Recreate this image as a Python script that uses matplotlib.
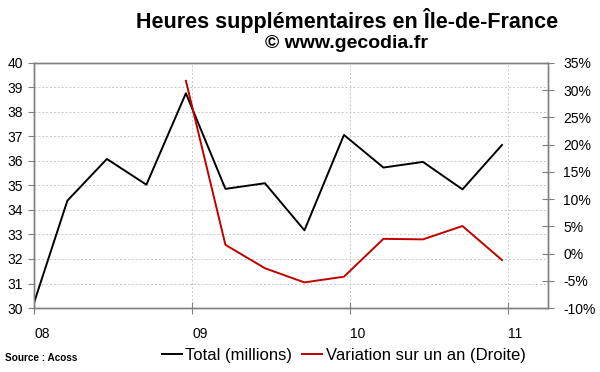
import numpy as np
import matplotlib
matplotlib.use('Agg')
from matplotlib import pyplot as plt

plt.rcParams['font.family'] = ['Liberation Sans', 'DejaVu Sans']

# trimestres (mi-mars, mi-juin, mi-sept., mi-déc.), de déc. 2007 à déc. 2010
trimestres = ['2007T4', '2008T1', '2008T2', '2008T3', '2008T4', '2009T1', '2009T2',
              '2009T3', '2009T4', '2010T1', '2010T2', '2010T3', '2010T4']
total = [29.45, 34.38, 36.08, 35.03, 38.76, 34.86, 35.09, 33.17, 37.06, 35.73, 35.96, 34.84, 36.65]
variation = [None, None, None, None, 31.7, 1.6, -2.7, -5.3, -4.25, 2.7, 2.6, 5.05, -1.2]
annees = ['08', '09', '10', '11']

# position en années depuis le 1er janvier 2008
x = np.array([-0.04 + 0.25 * i for i in range(len(trimestres))])
var_x = np.array([xi for xi, v in zip(x, variation) if v is not None])
var_y = np.array([v for v in variation if v is not None])

fig = plt.figure(figsize=(6, 3.72), dpi=100)
ax = fig.add_axes([0.057, 0.172, 0.856, 0.659])
ax2 = ax.twinx()

gris = '#808080'
ax.plot(x, total, color='black', lw=1.4, zorder=3)
ax2.plot(var_x, var_y, color='#c00000', lw=1.4, zorder=3)

ax.set_xlim(0, 3.25)
ax.set_ylim(30, 40)
ax2.set_ylim(-10, 35)
ax.set_yticks(range(30, 41))
ax2.set_yticks(range(-10, 36, 5))
ax2.set_yticklabels([f'{v}%' for v in range(-10, 36, 5)])
ax.set_xticks(range(len(annees)))
ax.set_xticklabels(annees)
for lab in ax.get_xticklabels():
    lab.set_horizontalalignment('left')

ax.grid(True, color='#c8c8c8', ls=(0, (2, 2)), lw=0.7)
ax.set_axisbelow(True)
for a in (ax, ax2):
    for s in a.spines.values():
        s.set_color(gris)
        s.set_linewidth(1.0)
ax.tick_params(axis='y', direction='out', length=4, color=gris, labelsize=10, pad=4)
ax.tick_params(axis='x', direction='inout', length=8, color=gris, labelsize=10, pad=10)
ax2.tick_params(axis='y', direction='inout', length=8, color=gris, labelsize=10, pad=7)

fig.text(0.578, 0.946, 'Heures supplémentaires en Île-de-France', ha='center', va='center',
         fontsize=15.5, fontweight='bold')
fig.text(0.578, 0.882, '© www.gecodia.fr', ha='center', va='center',
         fontsize=14, fontweight='bold')
fig.text(0.008, 0.038, 'Source : Acoss', ha='left', va='center', fontsize=7.2, fontweight='bold')

h1, = ax.plot([], [], color='black', lw=1.4, label='Total (millions)')
h2, = ax.plot([], [], color='#c00000', lw=1.4, label='Variation sur un an (Droite)')
fig.legend(handles=[h1, h2], loc='center', bbox_to_anchor=(0.573, 0.045), ncol=2,
           frameon=False, fontsize=12, handlelength=1.2, handletextpad=0.2, columnspacing=0.6,
           borderpad=0)

plt.savefig('out.png', dpi=100)
